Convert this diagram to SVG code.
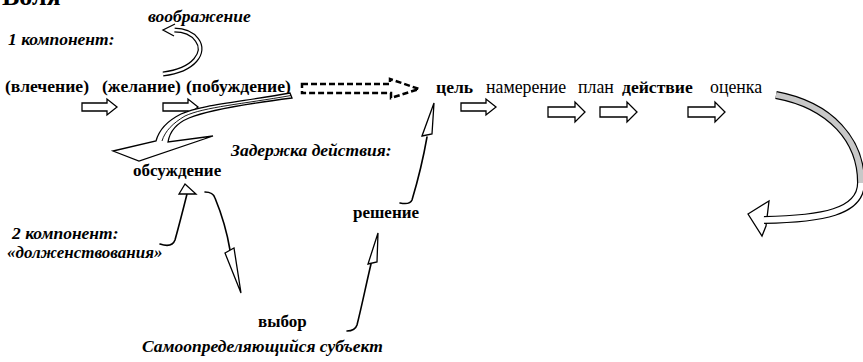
<svg xmlns="http://www.w3.org/2000/svg" width="863" height="362" viewBox="0 0 863 362">
<defs>
<style>
.b{font-family:"Liberation Serif","Times New Roman",serif;font-weight:bold;font-size:17px;fill:#000}
.t{font-size:17.6px}
.r{font-family:"Liberation Serif","Times New Roman",serif;font-size:17.8px;fill:#000}
.bi{font-family:"Liberation Serif","Times New Roman",serif;font-weight:bold;font-style:italic;font-size:17.5px;fill:#000}
.blk{fill:#fff;stroke:#000;stroke-width:1.3;stroke-linejoin:miter}
.thin{fill:none;stroke:#000;stroke-width:1.6;stroke-linecap:round}
.tri{fill:#fff;stroke:#000;stroke-width:1.3}
</style>
<path id="sa" d="M0,-4 H25 V-8 L35,0 L25,8 V4 H0 Z"/>
<path id="la" d="M0,-5 H27 V-10 L37,0 L27,10 V5 H0 Z"/>
</defs>
<rect width="863" height="362" fill="#fff"/>

<g id="title"><text class="b" x="2" y="5" style="font-size:26px">Воля</text></g>
<g id="imagination"><text class="bi" x="148" y="22">воображение</text></g>
<g id="component1"><text class="bi" x="8" y="45">1 компонент:</text></g>
<g id="attraction"><text class="b t" x="5" y="92">(влечение)</text></g>
<g id="desire"><text class="b t" x="102" y="92">(желание)</text></g>
<g id="motive"><text class="b t" x="186" y="92">(побуждение)</text></g>
<g id="goal"><text class="b t" x="436" y="93">цель</text></g>
<g id="intention"><text class="r" x="486" y="93">намерение</text></g>
<g id="plan"><text class="r" x="578" y="93">план</text></g>
<g id="action"><text class="b t" x="622" y="93">действие</text></g>
<g id="evaluation"><text class="r" x="710" y="93">оценка</text></g>
<g id="delay"><text class="bi" x="231" y="156">Задержка действия:</text></g>
<g id="discussion"><text class="b" x="133" y="176">обсуждение</text></g>
<g id="decision"><text class="b" x="353" y="218">решение</text></g>
<g id="component2"><text class="bi" x="12" y="239">2 компонент:</text><text class="bi" x="7" y="258" style="font-size:17px">«долженствования»</text></g>
<g id="choice"><text class="b" x="258" y="327">выбор</text></g>
<g id="subject"><text class="bi" x="142" y="352">Самоопределяющийся субъект</text></g>

<g id="connectors">
<!-- imagination curl -->
<path d="M163,74 C195,70 206,52 197,40 C192,33 184,30 174,30" fill="none" stroke="#000" stroke-width="5"/>
<path d="M163,74 C195,70 206,52 197,40 C192,33 184,30 174,30" fill="none" stroke="#fff" stroke-width="2.6"/>
<path d="M175,24 L163,30 L174,36" class="blk"/>

<!-- block arrows -->
<use href="#sa" class="blk" x="82" y="107"/>
<use href="#sa" class="blk" x="163" y="107"/>
<use href="#sa" class="blk" x="461" y="107"/>
<use href="#la" class="blk" x="548" y="112"/>
<use href="#la" class="blk" x="600" y="112"/>
<use href="#la" class="blk" x="688" y="112"/>

<!-- dashed arrow -->
<path d="M302,84 H390 V79 L419,89 L391,98 V93 H302 Z" fill="none" stroke="#000" stroke-width="2.5" stroke-dasharray="6,3"/>

<!-- motive to discussion -->
<path d="M290,93 C240,102 200,105 181,114 C167,121 159,130 156,141 L113,151 L139,161 L213,136 L168,142 C170,130 177,123 189,118 C206,111 245,104 292,98 Z" class="blk"/>
<path d="M291,95.5 C243,104 204,107 185,116 C173,123 165,131 162,141" fill="none" stroke="#000" stroke-width="0.9"/>

<!-- component2 to discussion -->
<path d="M160,244 Q172,248 175,240 C180,222 184,206 187,194" class="thin"/>
<polygon points="185,184 179,194 196,194" class="tri"/>

<!-- discussion to choice -->
<path d="M205,192 Q213,192 215,198 C222,215 227,232 230,250" class="thin"/>
<polygon points="225,253 234,248 241,293" class="tri"/>

<!-- choice to decision -->
<path d="M347,331 Q355,331 357,325 C362,305 366,285 371,264" class="thin"/>
<polygon points="368,264 377,262 378,233" class="tri"/>

<!-- decision to goal -->
<path d="M400,203 Q410,205 412,200 C418,180 423,160 427,137" class="thin"/>
<polygon points="422,136 432,134 434,103" class="tri"/>

<!-- evaluation loop -->
<path d="M748,214 L769,201 L766,226 L762,236 Z" class="blk"/>
<path d="M776,95 C830,105 862,140 861,185" fill="none" stroke="#000" stroke-width="8"/>
<path d="M776,95 C830,105 862,140 861,185" fill="none" stroke="#c8c8c8" stroke-width="5.6"/>
<path d="M861,183 C861,212 822,219 764,220" fill="none" stroke="#000" stroke-width="8"/>
<path d="M861,183 C861,212 822,219 764,220" fill="none" stroke="#fff" stroke-width="5.6"/>
</g>
</svg>
